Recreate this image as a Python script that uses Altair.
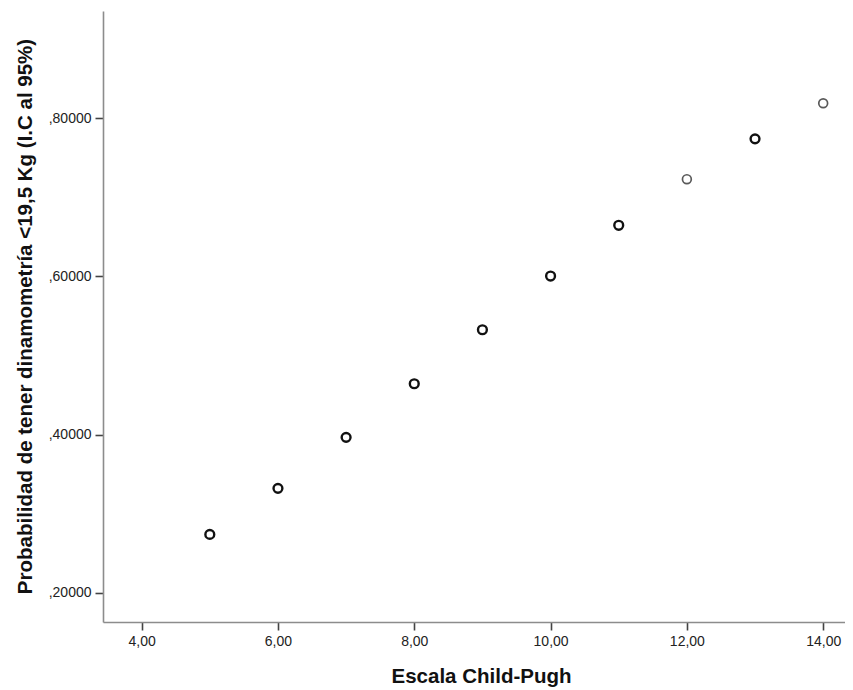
import altair as alt
import pandas as pd

# Data
escala = [5, 6, 7, 8, 9, 10, 11, 12, 13, 14]
probabilidad = [0.2738, 0.3320, 0.3965, 0.4643, 0.5326, 0.6005, 0.6647, 0.7230, 0.7740, 0.8190]
grupo = ["a", "a", "a", "a", "a", "a", "a", "b", "a", "b"]

x_ticks = [4, 6, 8, 10, 12, 14]
y_ticks = [0.2, 0.4, 0.6, 0.8]

df = pd.DataFrame({"x": escala, "y": probabilidad, "g": grupo})

FONT = "Liberation Sans"

chart = (
    alt.Chart(df)
    .mark_point(shape="circle", filled=False, size=78, opacity=1)
    .encode(
        x=alt.X(
            "x:Q",
            scale=alt.Scale(domain=[3.433, 14.32], nice=False, zero=False),
            axis=alt.Axis(
                values=x_ticks,
                labelExpr="replace(format(datum.value, '.2f'), '.', ',')",
                title="Escala Child-Pugh",
                titleX=378,
                titleY=60,
                titleAlign="center",
                titleBaseline="alphabetic",
            ),
        ),
        y=alt.Y(
            "y:Q",
            scale=alt.Scale(domain=[0.163, 0.9357], nice=False, zero=False),
            axis=alt.Axis(
                values=y_ticks,
                labelExpr="replace(format(datum.value, '.5f'), '0.', ',')",
                title="Probabilidad de tener dinamometría <19,5 Kg (I.C al 95%)",
                titleX=-78,
                titleY=305,
                titleAngle=-90,
                titleAlign="center",
                titleBaseline="middle",
            ),
        ),
        color=alt.Color(
            "g:N",
            scale=alt.Scale(domain=["a", "b"], range=["#111111", "#5a5a5a"]),
            legend=None,
        ),
        strokeWidth=alt.StrokeWidth(
            "g:N",
            scale=alt.Scale(domain=["a", "b"], range=[2.4, 1.7]),
            legend=None,
        ),
    )
    .properties(
        width=742,
        height=611,
        autosize=alt.AutoSizeParams(type="none"),
        padding={"left": 95, "top": 3, "right": 0, "bottom": 66},
    )
    .configure_view(stroke=None)
    .configure_axis(
        grid=False,
        domainColor="#8c8c8c",
        domainWidth=1.6,
        tickColor="#444444",
        tickWidth=1.6,
        tickSize=8,
        labelFont=FONT,
        labelFontSize=14,
        labelColor="#222222",
        labelPadding=4,
        titleFont=FONT,
        titleFontSize=20.5,
        titleFontWeight="bold",
        titleColor="#111111",
    )
)

chart.save("out.html", embed_options={"renderer": "svg", "actions": False})
